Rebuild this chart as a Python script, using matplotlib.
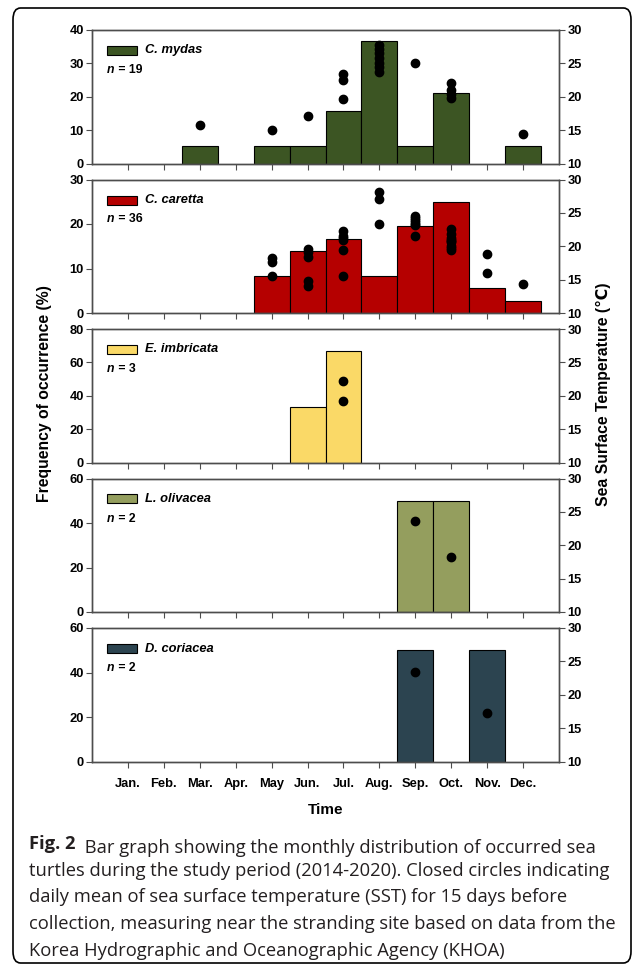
import numpy as np
import matplotlib
matplotlib.use("Agg")
import matplotlib.pyplot as plt
from matplotlib.patches import Rectangle, FancyBboxPatch
from matplotlib.text import Annotation

# ---- data ----
months = ["Jan.", "Feb.", "Mar.", "Apr.", "May", "Jun.", "Jul.", "Aug.",
          "Sep.", "Oct.", "Nov.", "Dec."]

species = ["C. mydas", "C. caretta", "E. imbricata", "L. olivacea", "D. coriacea"]
n_sizes = [19, 36, 3, 2, 2]
bar_colors = ["#3c5523", "#b50000", "#fad967", "#949e5e", "#2c4450"]
y_max = [40, 30, 80, 60, 60]
y_step = [10, 10, 20, 20, 20]

# frequency of occurrence (%) per month, Jan..Dec
freq_mydas = [0, 0, 5.26, 0, 5.26, 5.26, 15.79, 36.84, 5.26, 21.05, 0, 5.26]
freq_caretta = [0, 0, 0, 0, 8.33, 13.89, 16.67, 8.33, 19.44, 25.0, 5.56, 2.78]
freq_imbricata = [0, 0, 0, 0, 0, 33.33, 66.67, 0, 0, 0, 0, 0]
freq_olivacea = [0, 0, 0, 0, 0, 0, 0, 0, 50.0, 50.0, 0, 0]
freq_coriacea = [0, 0, 0, 0, 0, 0, 0, 0, 50.0, 0, 50.0, 0]

# SST (deg C) points, month number -> values
sst_mydas = {3: [15.7], 5: [15.0], 6: [17.1], 7: [23.4, 22.5, 19.7],
             8: [27.7, 27.1, 26.5, 25.8, 25.1, 24.5, 23.7], 9: [25.0],
             10: [22.0, 21.0, 20.4, 19.8], 12: [14.4]}
sst_caretta = {5: [18.3, 17.6, 15.5], 6: [19.6, 19.2, 18.4, 14.8, 14.1],
               7: [22.3, 21.5, 21.2, 21.0, 19.5, 15.5], 8: [28.1, 27.1, 23.4],
               9: [24.6, 24.2, 23.9, 23.6, 23.3, 23.2, 21.5],
               10: [22.6, 21.9, 21.3, 21.0, 20.8, 20.6, 20.1, 19.8, 19.5],
               11: [18.9, 16.0], 12: [14.4]}
sst_imbricata = {7: [22.2, 19.2]}
sst_olivacea = {9: [23.6], 10: [18.2]}
sst_coriacea = {9: [23.4], 11: [17.3]}

freqs = [freq_mydas, freq_caretta, freq_imbricata, freq_olivacea, freq_coriacea]
ssts = [sst_mydas, sst_caretta, sst_imbricata, sst_olivacea, sst_coriacea]

W, H = 634, 969
fig = plt.figure(figsize=(W / 100, H / 100), dpi=100)
plt.rcParams['font.family'] = ['Liberation Sans', 'DejaVu Sans']

left_px, right_px = 92, 559
tops_px = [30, 179.5, 329, 478.5, 628]
h_px = 133.5
spine_col = "#4d4d4d"
tick_fs = 9.3
x = np.arange(1, 13)

for i in range(5):
    top = tops_px[i]
    ax = fig.add_axes([left_px / W, 1 - (top + h_px) / H,
                       (right_px - left_px) / W, h_px / H])
    bars = [(m, f) for m, f in zip(x, freqs[i]) if f > 0]
    ax.bar([b[0] for b in bars], [b[1] for b in bars], width=1.0,
           color=bar_colors[i], edgecolor="black", linewidth=0.8, zorder=2)
    ax.set_xlim(0, 13)
    ax.set_ylim(0, y_max[i])
    ax.set_yticks(np.arange(0, y_max[i] + 1, y_step[i]))
    ax.set_xticks(x)
    if i == 4:
        ax.set_xticklabels(months, fontsize=9, fontweight="bold")
    else:
        ax.set_xticklabels([])
    ax.tick_params(axis="x", pad=8)
    ax.tick_params(axis="both", direction="out", length=4, width=0.8,
                   color=spine_col, labelsize=tick_fs)
    ax.tick_params(axis="y", pad=2)
    for lab in ax.get_yticklabels():
        lab.set_fontweight("bold")
    for sp in ax.spines.values():
        sp.set_color(spine_col)
        sp.set_linewidth(1.0)

    ax2 = ax.twinx()
    ax2.set_ylim(10, 30)
    ax2.set_yticks([10, 15, 20, 25, 30])
    ax2.tick_params(axis="y", direction="out", length=4, width=0.8,
                    color=spine_col, labelsize=tick_fs, pad=2)
    for lab in ax2.get_yticklabels():
        lab.set_fontweight("bold")
    for sp in ax2.spines.values():
        sp.set_color(spine_col)
        sp.set_linewidth(1.0)
    for m, vals in ssts[i].items():
        ax2.plot([m] * len(vals), vals, "o", color="black", markersize=6,
                 zorder=3, clip_on=False)

    # legend-like label
    ax.add_patch(Rectangle((15 / 467, 1 - 25 / h_px), 30 / 467, 9 / h_px,
                           transform=ax.transAxes, facecolor=bar_colors[i],
                           edgecolor="black", linewidth=0.8, zorder=4))
    ax.text(53 / 467, 1 - 20.5 / h_px, species[i], transform=ax.transAxes,
            fontsize=9.3, fontweight="bold", style="italic", va="center")
    t = ax.text(15 / 467, 1 - 43 / h_px, "n", transform=ax.transAxes,
                fontsize=8.8, fontweight="bold", style="italic", va="baseline")
    ax.annotate(" = %d" % n_sizes[i], xy=(1, 0), xycoords=t, va="bottom",
                fontsize=8.8, fontweight="bold")

fig.text(45 / W, 1 - 394 / H, "Frequency of occurrence (%)", rotation=90,
         ha="center", va="center", fontsize=11.3, fontweight="bold")
fig.text(603 / W, 1 - 394 / H, "Sea Surface Temperature (\u2103)", rotation=90,
         ha="center", va="center", fontsize=11.3, fontweight="bold")
fig.text((left_px + right_px) / 2 / W, 1 - 810 / H, "Time", ha="center",
         va="center", fontsize=11, fontweight="bold")

# caption
cap_lines = ["Bar graph showing the monthly distribution of occurred sea",
             "turtles during the study period (2014-2020). Closed circles indicating",
             "daily mean of sea surface temperature (SST) for 15 days before",
             "collection, measuring near the stranding site based on data from the",
             "Korea Hydrographic and Oceanographic Agency (KHOA)"]
cap_kw = dict(fontsize=13.2, family=["Open Sans", "DejaVu Sans"], color="#231f20")
base = 849
t0 = fig.text(29 / W, 1 - base / H, "Fig. 2", fontweight="bold", va="baseline",
              **cap_kw)
fig.add_artist(Annotation(" " + cap_lines[0], xy=(1, 0), xycoords=t0,
                          xytext=(3, 0), textcoords="offset points",
                          va="baseline", **cap_kw))
for k, line in enumerate(cap_lines[1:], start=1):
    fig.text(29 / W, 1 - (base + 26.7 * k) / H, line, va="baseline", **cap_kw)

# rounded outer frame
fig.add_artist(FancyBboxPatch((13 / W, 1 - 963 / H), (631 - 13) / W,
                              (963 - 8) / H, boxstyle="round,pad=0,rounding_size=0.012",
                              transform=fig.transFigure, facecolor="none",
                              edgecolor="black", linewidth=1.2))

fig.savefig("out.png", dpi=100)
